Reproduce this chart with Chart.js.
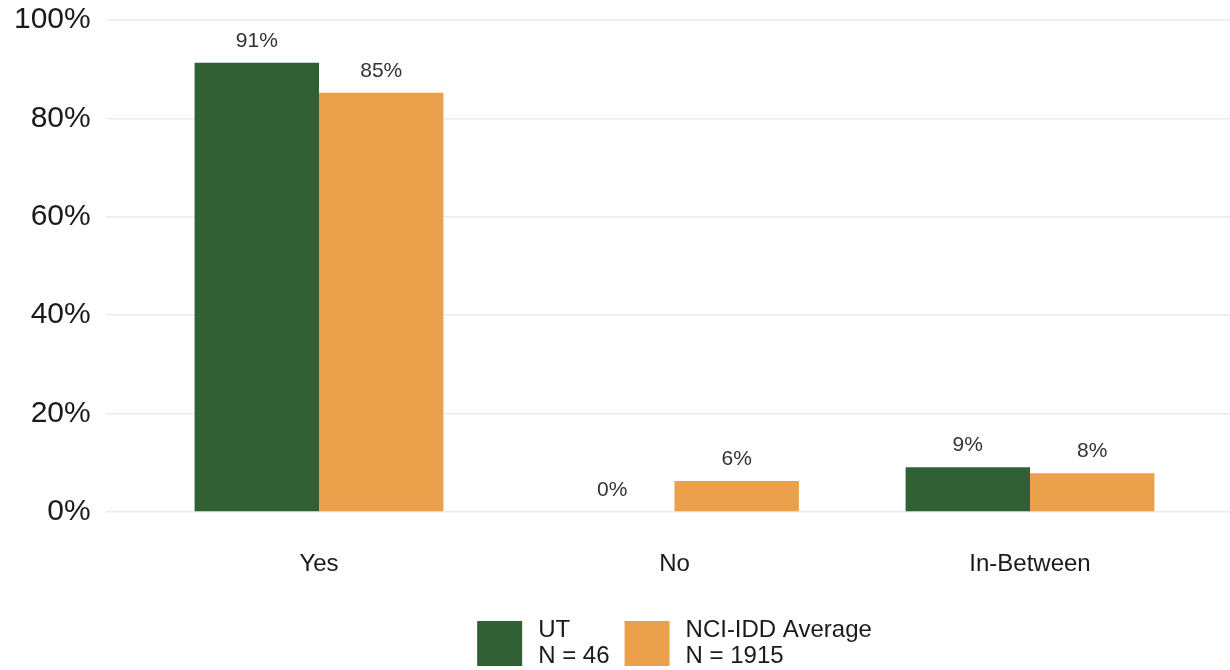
<!DOCTYPE html>
<html>
<head>
<meta charset="utf-8">
<script src="https://cdn.jsdelivr.net/npm/chart.js@4.4.0/dist/chart.umd.min.js"></script>
<style>
  html, body { margin: 0; padding: 0; background: #ffffff; overflow: hidden; }
  #wrap { width: 1230px; height: 670px; position: relative; }
</style>
</head>
<body>
<div id="wrap"><canvas id="c" width="1230" height="670"></canvas></div>
<script>
// ---- data ----
const categories = ["Yes", "No", "In-Between"];
const utValues = [91.3, 0, 9.1];
const nciValues = [85.2, 6.3, 7.9];
const utLabels = ["91%", "0%", "9%"];
const nciLabels = ["85%", "6%", "8%"];
const seriesNames = [["UT", "N = 46"], ["NCI-IDD Average", "N = 1915"]];
const yTicks = [0, 20, 40, 60, 80, 100];

const GREEN = "#306034";
const ORANGE = "#eba04b";
const FONT = "'Liberation Sans', Arial, sans-serif";

const toPoints = (vals) => vals.map((v, i) => ({ x: i + 1, y: v }));

const valueLabelPlugin = {
  id: "valueLabels",
  afterDatasetsDraw(chart) {
    const ctx = chart.ctx;
    ctx.save();
    ctx.font = "21px " + FONT;
    ctx.fillStyle = "#333333";
    ctx.textAlign = "center";
    ctx.textBaseline = "middle";
    const labelSets = [utLabels, nciLabels];
    chart.data.datasets.forEach((ds, di) => {
      const meta = chart.getDatasetMeta(di);
      meta.data.forEach((bar, i) => {
        ctx.fillText(labelSets[di][i], bar.x, bar.y - 22);
      });
    });
    ctx.restore();
  }
};

const bottomLegendPlugin = {
  id: "bottomLegend",
  afterDraw(chart) {
    const ctx = chart.ctx;
    const area = chart.chartArea;
    ctx.save();
    ctx.font = "24px " + FONT;
    const box = 45, textGap = 16, itemGap = 15, lineH = 26;
    const colors = [GREEN, ORANGE];
    const widths = seriesNames.map(lines => Math.max(...lines.map(l => ctx.measureText(l).width)));
    const total = widths.reduce((a, w) => a + box + textGap + w, 0) + itemGap * (seriesNames.length - 1);
    const xs = chart.scales.x;
    const panelRight = xs.getPixelForValue(3.6);
    const center = (area.left + panelRight) / 2;
    let x = center - total / 2;
    const top = 621;
    seriesNames.forEach((lines, i) => {
      ctx.fillStyle = colors[i];
      ctx.fillRect(x, top, box, box);
      ctx.fillStyle = "#1a1a1a";
      ctx.textAlign = "left";
      ctx.textBaseline = "middle";
      ctx.fillText(lines[0], x + box + textGap, top + box / 2 - lineH / 2);
      ctx.fillText(lines[1], x + box + textGap, top + box / 2 + lineH / 2);
      x += box + textGap + widths[i] + itemGap;
    });
    ctx.restore();
  }
};

new Chart(document.getElementById("c"), {
  type: "bar",
  data: {
    datasets: [
      { label: seriesNames[0][0], data: toPoints(utValues), backgroundColor: GREEN, borderWidth: 0 },
      { label: seriesNames[1][0], data: toPoints(nciValues), backgroundColor: ORANGE, borderWidth: 0 }
    ]
  },
  options: {
    responsive: false,
    animation: false,
    devicePixelRatio: 1,
    categoryPercentage: 0.7,
    barPercentage: 1.0,
    layout: { padding: { top: 20, right: 0, bottom: 0, left: 0 } },
    plugins: { legend: { display: false }, tooltip: { enabled: false } },
    scales: {
      x: {
        type: "linear",
        offset: false,
        min: 0.4,
        max: 3.5626,
        grid: { display: false, drawTicks: false },
        border: { display: false },
        afterBuildTicks(scale) {
          scale.ticks = categories.map((c, i) => ({ value: i + 1 }));
        },
        afterFit(scale) { scale.height = 158; scale.paddingLeft = 0; scale.paddingRight = 0; },
        ticks: {
          autoSkip: false,
          maxRotation: 0,
          padding: 38,
          color: "#1a1a1a",
          font: { family: FONT, size: 24 },
          callback: (v) => categories[Math.round(v) - 1] || ""
        }
      },
      y: {
        min: 0,
        max: 100,
        afterBuildTicks(scale) {
          scale.ticks = yTicks.map(v => ({ value: v }));
        },
        afterFit(scale) { scale.width = 105.7; scale.paddingTop = 0; scale.paddingBottom = 0; },
        grid: { color: "#ebebeb", lineWidth: 1.6, drawTicks: false },
        border: { display: false },
        ticks: {
          padding: 15,
          color: "#1a1a1a",
          font: { family: FONT, size: 30 },
          callback: (v) => v + "%"
        }
      }
    }
  },
  plugins: [valueLabelPlugin, bottomLegendPlugin]
});
</script>
</body>
</html>
